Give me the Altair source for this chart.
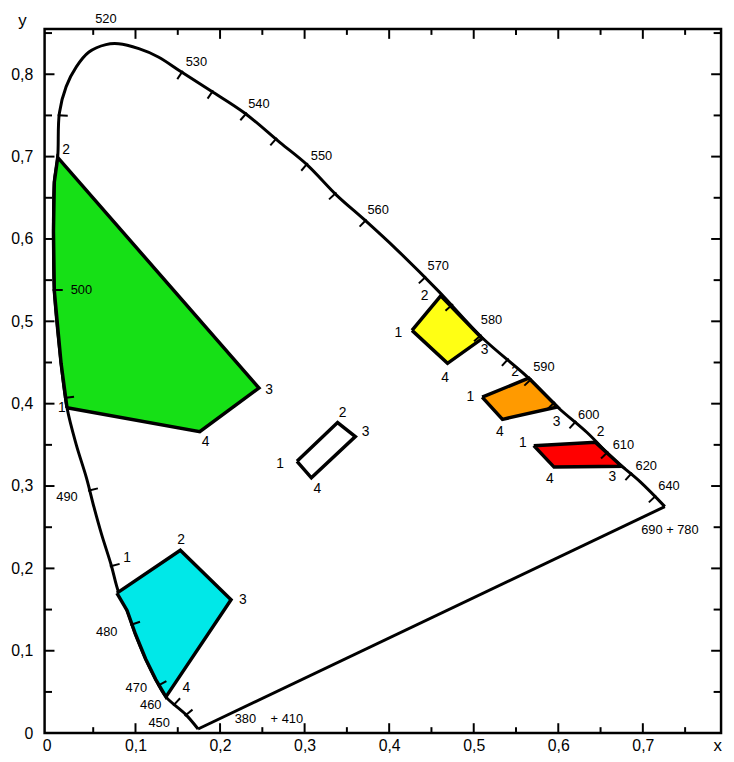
import altair as alt
import pandas as pd
import numpy as np

FONT = "Liberation Sans"

# ---- spectral locus (from 380 nm up the blue side to 690 nm)
locus_x = [0.174, 0.159, 0.136, 0.124, 0.112, 0.100, 0.090, 0.080, 0.071, 0.060, 0.051,
           0.042, 0.030, 0.019, 0.012, 0.004, 0.003, 0.004, 0.008, 0.010, 0.018, 0.030,
           0.045, 0.065, 0.080, 0.104, 0.127, 0.154, 0.189, 0.229, 0.271, 0.303, 0.338,
           0.370, 0.408, 0.458, 0.510, 0.564, 0.599, 0.634, 0.665, 0.697, 0.726]
locus_y = [0.005, 0.023, 0.044, 0.065, 0.090, 0.120, 0.149, 0.171, 0.205, 0.241, 0.274,
           0.310, 0.350, 0.395, 0.449, 0.537, 0.609, 0.669, 0.699, 0.753, 0.785, 0.809,
           0.827, 0.836, 0.837, 0.831, 0.821, 0.803, 0.780, 0.753, 0.717, 0.690, 0.653,
           0.624, 0.588, 0.537, 0.480, 0.432, 0.396, 0.365, 0.333, 0.305, 0.275]

# ---- small wavelength tick marks on the locus
wl_tick_x = [0.012, 0.154, 0.191, 0.229, 0.264, 0.297, 0.332, 0.367, 0.435, 0.469, 0.504,
             0.537, 0.563, 0.595, 0.615, 0.650, 0.681, 0.709,
             0.055, 0.072, 0.096, 0.131, 0.147, 0.162, 0.004, 0.024]
wl_tick_y = [0.750, 0.801, 0.779, 0.750, 0.719, 0.684, 0.651, 0.617, 0.546, 0.515, 0.479,
             0.450, 0.425, 0.401, 0.372, 0.333, 0.309, 0.282,
             0.297, 0.203, 0.132, 0.060, 0.036, 0.024, 0.538, 0.408]

# ---- wavelength labels
wl_text = ["520", "530", "540", "550", "560", "570", "580", "590", "600", "610", "620",
           "640", "690 + 780", "500", "490", "480", "470", "460", "450", "380", "+ 410"]
wl_x = [0.065, 0.172, 0.246, 0.320, 0.387, 0.458, 0.521, 0.583, 0.636, 0.677, 0.704,
        0.731, 0.732, 0.036, 0.019, 0.066, 0.101, 0.118, 0.128, 0.230, 0.279]
wl_y = [0.867, 0.815, 0.764, 0.701, 0.635, 0.567, 0.501, 0.444, 0.386, 0.350, 0.324,
        0.300, 0.247, 0.538, 0.287, 0.123, 0.055, 0.034, 0.012, 0.017, 0.017]

# ---- colour regions (vertices 1..4, plus locus points where the edge follows the locus)
green_x = [0.019, 0.012, 0.004, 0.003, 0.004, 0.008, 0.246, 0.176]
green_y = [0.395, 0.449, 0.537, 0.609, 0.669, 0.699, 0.419, 0.366]
cyan_x = [0.078, 0.153, 0.213, 0.136, 0.124, 0.112, 0.100, 0.090]
cyan_y = [0.170, 0.222, 0.162, 0.044, 0.065, 0.090, 0.120, 0.149]
yellow_x = [0.427, 0.461, 0.510, 0.469]
yellow_y = [0.489, 0.531, 0.479, 0.449]
orange_x = [0.510, 0.565, 0.599, 0.534]
orange_y = [0.408, 0.431, 0.396, 0.381]
red_x = [0.571, 0.644, 0.675, 0.595]
red_y = [0.349, 0.353, 0.324, 0.323]
white_x = [0.291, 0.339, 0.360, 0.308]
white_y = [0.330, 0.377, 0.360, 0.310]

region_colors = ["#16E016", "#00E8E8", "#FFFF14", "#FF9A00", "#FF0000", "#FFFFFF"]

# ---- vertex numbers
vnum_text = ["1", "2", "3", "4",  "1", "2", "3", "4",  "1", "2", "3", "4",
             "1", "2", "3", "4",  "1", "2", "3", "4",  "1", "2", "3", "4"]
vnum_x = [0.013, 0.018, 0.258, 0.183,  0.090, 0.154, 0.227, 0.160,
          0.411, 0.442, 0.513, 0.466,  0.496, 0.549, 0.598, 0.531,
          0.558, 0.650, 0.664, 0.590,  0.271, 0.345, 0.372, 0.315]
vnum_y = [0.395, 0.708, 0.417, 0.354,  0.212, 0.234, 0.162, 0.055,
          0.486, 0.531, 0.465, 0.431,  0.408, 0.438, 0.378, 0.365,
          0.352, 0.366, 0.311, 0.309,  0.327, 0.389, 0.365, 0.296]

# ---- axes
x_tick_labels = [0.0, 0.1, 0.2, 0.3, 0.4, 0.5, 0.6, 0.7]
y_tick_labels = [0.0, 0.1, 0.2, 0.3, 0.4, 0.5, 0.6, 0.7, 0.8]
x_minor = [0.05, 0.15, 0.25, 0.35, 0.45, 0.55, 0.65, 0.75]
y_minor = [0.05, 0.15, 0.25, 0.35, 0.45, 0.55, 0.65, 0.75, 0.85]
X_MIN, X_MAX = -0.0075, 0.7925
Y_MIN, Y_MAX = 0.0, 0.855

xs = alt.Scale(domain=[X_MIN, X_MAX], nice=False, zero=False)
ys = alt.Scale(domain=[Y_MIN, Y_MAX], nice=False, zero=False)

label_expr = "datum.value == 0 ? '0' : replace(format(datum.value, '.1f'), '.', ',')"

x_axis = alt.Axis(values=x_tick_labels, labelExpr=label_expr, ticks=False, domain=False,
                  grid=False, labelFontSize=16, labelFont=FONT, labelColor="black",
                  labelPadding=5,
                  labelAlign={"condition": {"test": "datum.value == 0", "value": "right"},
                              "value": "center"},
                  title="x", titleX=680, titleY=18, titleAlign="center",
                  titleBaseline="alphabetic", titleFontSize=17, titleFont=FONT,
                  titleFontWeight="normal", titleColor="black")
y_axis = alt.Axis(values=y_tick_labels, labelExpr=label_expr, ticks=False, domain=False,
                  grid=False, labelFontSize=16, labelFont=FONT, labelColor="black",
                  labelPadding=12,
                  title="y", titleAngle=0, titleX=-23, titleY=-3, titleAlign="center",
                  titleBaseline="alphabetic", titleFontSize=17, titleFont=FONT,
                  titleFontWeight="normal", titleColor="black")

# ---- data frames
locus_df = pd.DataFrame({"i": range(len(locus_x)), "x": locus_x, "y": locus_y})
purple_df = pd.DataFrame({"i": [0, 1], "x": [locus_x[-1], locus_x[0]],
                          "y": [locus_y[-1], locus_y[0]]})

def poly(xv, yv):
    xv = list(xv) + [xv[0]]
    yv = list(yv) + [yv[0]]
    return pd.DataFrame({"i": range(len(xv)), "x": xv, "y": yv})

regions = [(green_x, green_y), (cyan_x, cyan_y), (yellow_x, yellow_y),
           (orange_x, orange_y), (red_x, red_y), (white_x, white_y)]

# frame ticks (pointing inward)
LX = 10 / 855
LY = 10 / 833
rows = []
for v in x_tick_labels[1:] + x_minor:
    f = 1.0 if v in x_tick_labels else 0.6
    rows.append(dict(x1=v, x2=v, y1=Y_MIN, y2=Y_MIN + LY * f))
    rows.append(dict(x1=v, x2=v, y1=Y_MAX, y2=Y_MAX - LY * f))
for v in y_tick_labels[1:] + y_minor:
    f = 1.0 if v in y_tick_labels else 0.75
    rows.append(dict(x1=X_MIN, x2=X_MIN + LX * f, y1=v, y2=v))
    rows.append(dict(x1=X_MAX, x2=X_MAX - LX * f, y1=v, y2=v))
frame_ticks = pd.DataFrame(rows)

# wavelength ticks: perpendicular to locus, pointing inward
lx = np.array(locus_x)
ly = np.array(locus_y)
wrows = []
for px_, py_ in zip(wl_tick_x, wl_tick_y):
    best = None
    for k in range(len(lx) - 1):
        ax, ay, bx, by = lx[k], ly[k], lx[k + 1], ly[k + 1]
        dx, dy = bx - ax, by - ay
        t = ((px_ - ax) * dx + (py_ - ay) * dy) / (dx * dx + dy * dy)
        t = max(0.0, min(1.0, t))
        qx, qy = ax + t * dx, ay + t * dy
        d = (qx - px_) ** 2 + (qy - py_) ** 2
        if best is None or d < best[0]:
            best = (d, qx, qy, dx, dy)
    _, qx, qy, dx, dy = best
    n = np.hypot(dx, dy)
    nx, ny = -dy / n, dx / n
    if (0.33 - qx) * nx + (0.33 - qy) * ny < 0:
        nx, ny = -nx, -ny
    wrows.append(dict(x1=qx - nx * 0.002, y1=qy - ny * 0.002,
                      x2=qx + nx * 0.010, y2=qy + ny * 0.010))
wl_ticks = pd.DataFrame(wrows)

wl_df = pd.DataFrame({"t": wl_text, "x": wl_x, "y": wl_y})
vn_df = pd.DataFrame({"t": vnum_text, "x": vnum_x, "y": vnum_y})

X = alt.X("x:Q", scale=xs)
Y = alt.Y("y:Q", scale=ys)

# ---- layers
base_locus = alt.Chart(locus_df).mark_line(
    color="black", strokeWidth=3, interpolate="catmull-rom", clip=False
).encode(
    x=alt.X("x:Q", scale=xs, axis=x_axis),
    y=alt.Y("y:Q", scale=ys, axis=y_axis),
    order="i:O",
)

purple = alt.Chart(purple_df).mark_line(color="black", strokeWidth=3).encode(
    x=X, y=Y, order="i:O")

poly_layers = []
for (xv, yv), col in zip(regions, region_colors):
    poly_layers.append(
        alt.Chart(poly(xv, yv)).mark_line(
            fill=col, stroke="black", strokeWidth=3.5, strokeJoin="miter"
        ).encode(x=X, y=Y, order="i:O")
    )

frame_rules = alt.Chart(frame_ticks).mark_rule(color="black", strokeWidth=2).encode(
    x=alt.X("x1:Q", scale=xs), x2="x2:Q",
    y=alt.Y("y1:Q", scale=ys), y2="y2:Q")

wl_rules = alt.Chart(wl_ticks).mark_rule(color="black", strokeWidth=2).encode(
    x=alt.X("x1:Q", scale=xs), x2="x2:Q",
    y=alt.Y("y1:Q", scale=ys), y2="y2:Q")

wl_labels = alt.Chart(wl_df).mark_text(
    font=FONT, fontSize=13, color="black", align="center", baseline="middle", clip=False
).encode(x=X, y=Y, text="t:N")

vn_labels = alt.Chart(vn_df).mark_text(
    font=FONT, fontSize=14, color="black", align="center", baseline="middle"
).encode(x=X, y=Y, text="t:N")

chart = alt.layer(
    base_locus, *poly_layers, purple, frame_rules, wl_rules, wl_labels, vn_labels
).properties(
    width=684, height=712, autosize="none", background="white",
    padding={"left": 37, "top": 17, "right": 5, "bottom": 22},
).configure_view(stroke="black", strokeWidth=2.5)

chart.save("out.html", embed_options={"renderer": "svg", "actions": False})
